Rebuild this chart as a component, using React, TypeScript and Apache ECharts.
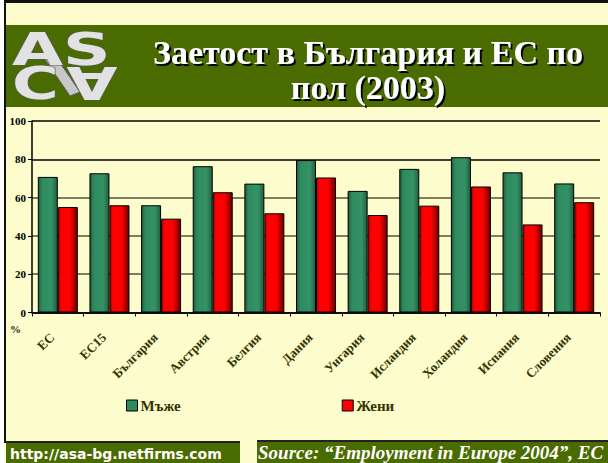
import React, { useEffect, useRef } from "react";
import * as echarts from "echarts";

const categories = ["ЕС", "ЕС15", "България", "Австрия", "Белгия", "Дания", "Унгария", "Исландия", "Холандия", "Испания", "Словения"];
const men = [70.8, 72.7, 56.0, 76.4, 67.3, 79.6, 63.5, 75.0, 81.1, 73.2, 67.4];
const women = [55.1, 56.0, 49.0, 62.8, 51.8, 70.5, 50.9, 55.8, 65.8, 46.0, 57.6];
const yTicks = { min: 0, max: 100, interval: 20 };
const seriesNames = ["Мъже", "Жени"];
const titleText = "Заетост в България и ЕС по\nпол (2003)";
const footerLeft = "http://asa-bg.netfirms.com";
const footerRight = "Source: “Employment in Europe 2004”, EC";

const SERIF = '"Liberation Serif", "Times New Roman", serif';
const BG = "#fcfccc";
const BAND = "#4a6b00";

export default function App() {
  const ref = useRef<HTMLDivElement>(null);
  useEffect(() => {
    if (!ref.current) return;
    const chart = echarts.init(ref.current, null, { renderer: "svg" });
    const greenGrad = {
      type: "linear", x: 0, y: 0, x2: 1, y2: 0,
      colorStops: [
        { offset: 0, color: "#1d5c3b" },
        { offset: 0.2, color: "#2e8b5e" },
        { offset: 0.7, color: "#359266" },
        { offset: 1, color: "#215f40" },
      ],
    };
    const redGrad = {
      type: "linear", x: 0, y: 0, x2: 1, y2: 0,
      colorStops: [
        { offset: 0, color: "#a00000" },
        { offset: 0.15, color: "#ff0000" },
        { offset: 0.6, color: "#ff0000" },
        { offset: 1, color: "#6a0000" },
      ],
    };
    const logoStyle = { font: 'bold 44px "DejaVu Sans"', fill: "#e2e2e2", stroke: "#5a5a5a", lineWidth: 1 };
    chart.setOption({
      animation: false,
      backgroundColor: BG,
      graphic: [
        { type: "rect", shape: { x: 0, y: 0, width: 4, height: 463 }, style: { fill: "#ffffff" }, z: -10 },
        { type: "rect", shape: { x: 4, y: 0, width: 604, height: 3 }, style: { fill: "#111" }, z: 10 },
        { type: "rect", shape: { x: 4, y: 0, width: 2, height: 443 }, style: { fill: "#111" }, z: 10 },
        { type: "rect", shape: { x: 6, y: 25, width: 602, height: 82 }, style: { fill: BAND }, z: 1 },
        {
          type: "polygon", z: 4,
          shape: { points: [[44, 58], [54, 54], [80, 92], [70, 96]] },
          style: { fill: "#c8c8c8", stroke: "#5a5a5a", lineWidth: 1 },
        },
        {
          type: "text", x: 12, y: 28, scaleX: 1.5, z: 5,
          style: { ...logoStyle, text: "AS", textVerticalAlign: "top" },
        },
        {
          type: "text", x: 12, y: 62, scaleX: 1.45, z: 5,
          style: { ...logoStyle, text: "C", textVerticalAlign: "top" },
        },
        {
          type: "text", x: 92, y: 82, scaleX: 1.5, rotation: Math.PI, z: 5,
          style: { ...logoStyle, text: "A", textAlign: "center", textVerticalAlign: "middle" },
        },
        {
          type: "text", x: 368, y: 70, z: 5,
          style: {
            text: titleText, font: `bold 34px ${SERIF}`, fill: "#ffffff", lineHeight: 35,
            textAlign: "center", textVerticalAlign: "middle",
            textShadowColor: "#000", textShadowOffsetX: 2, textShadowOffsetY: 2, textShadowBlur: 1,
          },
        },
        {
          type: "text", x: 10, y: 329, z: 5,
          style: { text: "%", font: `bold 11px ${SERIF}`, fill: "#222", textVerticalAlign: "middle" },
        },
        { type: "rect", shape: { x: 6, y: 441, width: 234, height: 2 }, style: { fill: "#222" }, z: 5 },
        { type: "rect", shape: { x: 6, y: 443, width: 234, height: 20 }, style: { fill: BAND }, z: 5 },
        {
          type: "text", x: 10, y: 454, z: 6,
          style: { text: footerLeft, font: 'bold 14px "DejaVu Sans"', fill: "#ffffff", textVerticalAlign: "middle" },
        },
        { type: "rect", shape: { x: 257, y: 440, width: 351, height: 2 }, style: { fill: "#222" }, z: 5 },
        { type: "rect", shape: { x: 257, y: 442, width: 351, height: 21 }, style: { fill: BAND }, z: 5 },
        {
          type: "text", x: 258, y: 452, z: 6,
          style: { text: footerRight, font: `italic bold 19px ${SERIF}`, fill: "#ffffff", textVerticalAlign: "middle" },
        },
      ],
      legend: {
        left: 126,
        top: 398,
        padding: 0,
        itemWidth: 11,
        itemHeight: 11,
        itemGap: 161,
        icon: "rect",
        textStyle: { fontFamily: SERIF, fontWeight: "bold", fontSize: 15, color: "#333300", padding: [0, 0, 0, -2] },
        data: [
          { name: seriesNames[0], itemStyle: { color: "#2e8b5e", borderColor: "#000", borderWidth: 1 } },
          { name: seriesNames[1], itemStyle: { color: "#ff0000", borderColor: "#000", borderWidth: 1 } },
        ],
      },
      grid: { left: 32, right: 8, top: 121, bottom: 150.5, containLabel: false },
      xAxis: {
        type: "category",
        data: categories,
        boundaryGap: true,
        axisLine: { lineStyle: { color: "#000", width: 1.5 } },
        axisTick: { show: true, length: 4, alignWithLabel: false, lineStyle: { color: "#000" } },
        axisLabel: {
          interval: 0, rotate: 45, margin: 17, padding: [0, 8, 0, 0],
          fontFamily: SERIF, fontWeight: "bold", fontSize: 13, color: "#333300",
        },
      },
      yAxis: {
        type: "value",
        min: yTicks.min,
        max: yTicks.max,
        interval: yTicks.interval,
        axisLine: { show: true, lineStyle: { color: "#000", width: 1.5 } },
        axisTick: { show: true, length: 4, lineStyle: { color: "#000" } },
        axisLabel: { margin: 6, fontFamily: SERIF, fontWeight: "bold", fontSize: 11, color: "#000" },
        splitLine: { show: true, lineStyle: { color: ["#000", "#55553f", "#55553f", "#55553f", "#000", "#000"], width: 1.5 } },
      },
      series: [
        {
          name: seriesNames[0], type: "bar", data: men, barWidth: 20, barGap: "0%",
          itemStyle: { color: greenGrad, borderColor: "#000", borderWidth: 1 },
        },
        {
          name: seriesNames[1], type: "bar", data: women, barWidth: 20,
          itemStyle: { color: redGrad, borderColor: "#000", borderWidth: 1 },
        },
      ],
    });
    return () => chart.dispose();
  }, []);
  return <div ref={ref} style={{ position: "fixed", left: 0, top: 0, width: 608, height: 463 }} />;
}
